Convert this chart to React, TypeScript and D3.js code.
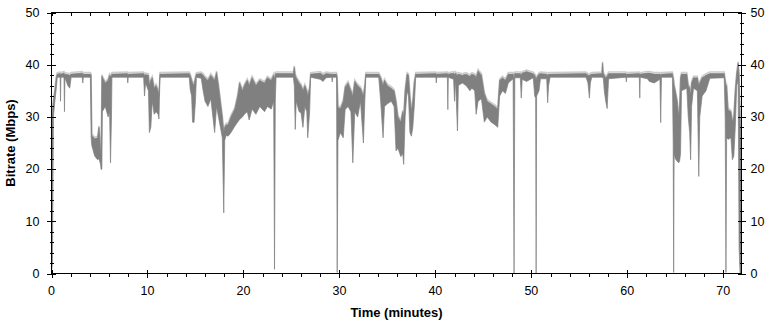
import * as d3 from 'd3';
import React, { useEffect, useRef } from 'react';

const W = 771, H = 321;
const margin = { top: 12.5, right: 29.5, bottom: 47.5, left: 51.5 };

const xTicks = [0, 10, 20, 30, 40, 50, 60, 70];
const yTicks = [0, 10, 20, 30, 40, 50];
const xTitle = 'Time (minutes)';
const yTitle = 'Bitrate (Mbps)';
const xMax = 71.9;

// [minute, low Mbps, high Mbps]
const bitrate: [number, number, number][] = [
  [0.0, 0, 30], [0.1, 2, 31], [0.2, 30, 33], [0.35, 33, 35], [0.5, 35.5, 37.5],
  [0.6, 37.6, 38.2], [0.9, 37.6, 38.3], [0.94, 33, 38.1], [0.98, 37.6, 38.2],
  [1.3, 37.6, 38.4], [1.35, 31, 38.1], [1.4, 37.5, 38.2], [1.7, 36, 38.1],
  [1.9, 35.5, 38], [2.05, 37.6, 38.2], [3.2, 37.6, 38.4], [3.26, 36.5, 38.1],
  [3.32, 37.6, 38.2], [4.05, 37.6, 38.2], [4.13, 26, 38], [4.2, 24.5, 26.5],
  [4.5, 22.5, 25.8], [4.8, 21.8, 26], [4.95, 22, 28], [5.1, 21, 24],
  [5.17, 19.9, 22.5], [5.25, 20, 37.8], [5.3, 31, 37.6], [5.6, 32, 36.5],
  [5.9, 30, 37], [6.05, 31, 38], [6.15, 21.2, 37.8], [6.25, 30, 38],
  [6.3, 37.6, 38.2], [7.9, 37.6, 38.3], [7.95, 36.5, 38.1], [8.0, 37.6, 38.2],
  [9.6, 37.6, 38.3], [9.69, 34, 38], [9.8, 36.5, 38.1], [10.1, 35, 38],
  [10.2, 27, 36], [10.35, 28, 37], [10.5, 33, 37.5], [10.7, 30.5, 35.5],
  [10.9, 31, 36], [11.1, 30.5, 35], [11.2, 29.6, 34], [11.3, 37.6, 38.2],
  [14.35, 37.6, 38.3], [14.45, 35.3, 38], [14.6, 34, 37], [14.7, 29, 36.5],
  [14.85, 28.9, 36], [15.0, 33, 37.5], [15.1, 37.6, 38.2], [15.6, 37.4, 38.3],
  [15.8, 35, 38], [16.0, 33, 37.5], [16.3, 32, 37], [16.6, 33.5, 38],
  [17.0, 27, 37], [17.2, 32, 38.5], [17.4, 30, 36], [17.6, 28, 33],
  [17.8, 26, 30], [17.95, 11.6, 27], [18.05, 25.5, 28], [18.2, 26.5, 28.5],
  [18.4, 26.3, 28.5], [18.7, 27, 30], [19.1, 28.2, 31.5], [19.4, 29, 34],
  [19.6, 29.5, 36.5], [19.9, 30, 35], [20.1, 30.5, 36], [20.4, 31, 37],
  [20.6, 29.4, 36], [20.9, 31.5, 37.5], [21.3, 30.5, 36], [21.7, 32, 37],
  [22.2, 31, 36.5], [22.5, 32, 37.5], [22.9, 31.5, 37], [23.15, 33, 38],
  [23.24, 0.8, 37], [23.32, 33, 38.2], [23.4, 37.6, 38.3], [25.2, 37.6, 38.3],
  [25.3, 36, 39.5], [25.4, 27.6, 38], [25.5, 33, 37.5], [25.8, 31, 36.5],
  [26.0, 30.8, 36], [26.2, 28, 35], [26.4, 32, 36], [26.6, 31, 35],
  [26.7, 26, 34], [26.9, 31, 35.5], [27.0, 37.6, 38.2], [28.0, 37.2, 38.4],
  [28.3, 36.8, 38], [28.6, 37.5, 38.3], [29.2, 37.6, 38.2], [29.25, 36.7, 38],
  [29.3, 37.6, 38.2], [29.7, 37.6, 38.2], [29.77, 0.2, 37.5], [29.85, 25.5, 32],
  [30.1, 27, 31.5], [30.4, 26, 33], [30.6, 31.4, 35.7], [30.9, 32, 36.5],
  [31.2, 31, 35], [31.4, 21.2, 34], [31.6, 31, 36.8], [31.9, 30, 36],
  [32.2, 33, 35.5], [32.5, 25, 34], [32.65, 33, 36], [32.75, 37.6, 38.2],
  [34.1, 37.6, 38.2], [34.3, 33, 37.5], [34.55, 26, 36], [34.7, 32, 37],
  [35.0, 32.5, 36], [35.4, 33, 35.5], [35.7, 32, 35], [35.9, 23.5, 33],
  [36.1, 24, 30], [36.4, 22.4, 29], [36.6, 23, 31], [36.7, 20.9, 30],
  [36.85, 30, 35], [37.05, 35, 38.2], [37.2, 34, 38], [37.35, 27, 34],
  [37.5, 26.3, 31], [37.65, 28, 33], [37.8, 32, 36.5], [37.95, 37.6, 38.2],
  [40.05, 37.6, 38.3], [40.1, 36.5, 38], [40.15, 37.6, 38.2], [41.25, 37.6, 38.3],
  [41.3, 31.4, 38], [41.35, 37.6, 38.2], [41.9, 37.2, 38.4], [42.0, 33, 38],
  [42.1, 37.2, 38.4], [42.3, 27.3, 38], [42.4, 36, 38.2], [42.8, 36.5, 38],
  [43.2, 36, 38.2], [43.6, 35, 37.8], [43.8, 35.5, 38.2], [44.1, 35, 38],
  [44.25, 30.5, 37.5], [44.45, 33, 38.8], [44.8, 33.5, 38], [45.1, 29, 34.5],
  [45.4, 30, 33], [45.8, 29, 32.5], [46.2, 28.5, 32], [46.5, 28, 31.5],
  [46.7, 34, 37], [47.0, 35, 37.5], [47.3, 34.5, 37], [47.6, 36.5, 38.2],
  [48.1, 37.3, 38.2], [48.2, 0.1, 37], [48.28, 37.5, 38.3], [48.85, 37.5, 38.3],
  [48.95, 33.6, 38], [49.05, 37.2, 38.4], [49.5, 36.8, 38.7], [50.2, 37.5, 38.3],
  [50.35, 34, 38], [50.45, 33.6, 37.5], [50.5, 0, 37], [50.55, 34, 37.5],
  [50.8, 35, 38.2], [50.95, 37.3, 38.3], [51.6, 37.3, 38.2], [51.7, 32.7, 38],
  [51.8, 36, 38.2], [51.95, 37.6, 38.2], [55.7, 37.6, 38.3], [55.9, 36.5, 38],
  [56.05, 33.6, 38], [56.15, 36.5, 38.1], [56.3, 37.6, 38.2], [57.35, 37.6, 38.3],
  [57.42, 37.5, 40.3], [57.5, 37.6, 38.3], [57.6, 35, 38], [57.75, 33, 37.5],
  [57.9, 31.6, 37.8], [58.05, 37.3, 38.3], [59.85, 37.6, 38.3], [59.9, 36.7, 38.1],
  [59.95, 37.6, 38.2], [61.25, 37.6, 38.3], [61.3, 33.6, 38], [61.35, 37.6, 38.2],
  [62.1, 37.3, 38.4], [62.3, 36.8, 38.4], [62.8, 36.5, 38.2], [63.4, 37.2, 38.2],
  [63.48, 28.9, 38], [63.56, 37.6, 38.2], [64.7, 37.6, 38.3], [64.78, 25, 37.5],
  [64.83, 0.2, 37], [64.88, 23, 36], [65.0, 22, 35], [65.2, 21.5, 33],
  [65.35, 21.2, 30], [65.45, 21.5, 32], [65.55, 23, 37.5], [65.65, 35, 38.2],
  [66.2, 35.5, 38.2], [66.35, 30, 36], [66.5, 27, 35.5], [66.6, 21.8, 34],
  [66.7, 32, 36.5], [66.9, 35.5, 37.5], [67.3, 35, 37.5], [67.45, 18.6, 36],
  [67.55, 30, 36.5], [67.8, 34, 37.5], [68.2, 35, 38], [68.6, 37.4, 38.3],
  [70.1, 37.5, 38.3], [70.2, 30, 37], [70.28, 0.2, 36], [70.35, 26, 36],
  [70.5, 25.7, 31.4], [70.8, 26, 31], [70.95, 21.8, 29], [71.1, 22.5, 30],
  [71.25, 28, 35], [71.4, 36, 38.3], [71.55, 37, 40.3], [71.65, 5, 38],
  [71.75, 0, 30], [71.85, 0, 25],
];

const App = () => {
  const ref = useRef<SVGSVGElement>(null);

  useEffect(() => {
    const svg = d3.select(ref.current);
    svg.selectAll('*').remove();

    const x0 = margin.left, x1 = W - margin.right;
    const yTop = margin.top, yBot = H - margin.bottom;

    const x = d3.scaleLinear().domain([0, xMax]).range([x0, x1]);
    const y = d3.scaleLinear().domain([0, 50]).range([yBot, yTop]);

    svg.append('clipPath').attr('id', 'plot')
      .append('rect').attr('x', x0).attr('y', yTop).attr('width', x1 - x0).attr('height', yBot - yTop);

    const g = svg.append('g').attr('clip-path', 'url(#plot)');

    // light fuzz riding on top of the trace
    const top = d3.line<[number, number, number]>()
      .x(d => x(d[0]))
      .y(d => y(d[2]) - 1.5);
    g.append('path').attr('d', top(bitrate))
      .attr('fill', 'none').attr('stroke', '#cccccc').attr('stroke-width', 1.5);

    const area = d3.area<[number, number, number]>()
      .x(d => x(d[0]))
      .y0(d => y(d[1]))
      .y1(d => y(d[2]));
    g.append('path').attr('d', area(bitrate))
      .attr('fill', '#808080').attr('stroke', '#808080').attr('stroke-width', 0.7);

    // frame
    const axis = svg.append('g').attr('stroke', '#000').attr('stroke-width', 1).attr('shape-rendering', 'crispEdges');
    axis.append('rect').attr('x', x0).attr('y', yTop).attr('width', x1 - x0).attr('height', yBot - yTop)
      .attr('fill', 'none');

    // x ticks
    const xMinor = d3.range(0, xMax, 2);
    xMinor.forEach(t => {
      axis.append('line').attr('x1', Math.round(x(t)) + 0.5).attr('x2', Math.round(x(t)) + 0.5)
        .attr('y1', yBot).attr('y2', yBot + 3);
      axis.append('line').attr('x1', Math.round(x(t)) + 0.5).attr('x2', Math.round(x(t)) + 0.5)
        .attr('y1', yTop).attr('y2', yTop + 3);
    });
    xTicks.forEach(t => {
      axis.append('line').attr('x1', Math.round(x(t)) + 0.5).attr('x2', Math.round(x(t)) + 0.5)
        .attr('y1', yBot - 4).attr('y2', yBot + 4);
    });

    // y ticks on both sides
    const yMinor = d3.range(0, 51, 2);
    yMinor.forEach(v => {
      const yy = Math.round(y(v)) + 0.5;
      axis.append('line').attr('x1', x0 - 2).attr('x2', x0 + 2).attr('y1', yy).attr('y2', yy);
      axis.append('line').attr('x1', x1 - 2).attr('x2', x1 + 2).attr('y1', yy).attr('y2', yy);
    });
    yTicks.forEach(v => {
      const yy = Math.round(y(v)) + 0.5;
      axis.append('line').attr('x1', x0 - 5).attr('x2', x0 + 4).attr('y1', yy).attr('y2', yy);
      axis.append('line').attr('x1', x1 - 4).attr('x2', x1 + 4).attr('y1', yy).attr('y2', yy);
    });

    const font = 'Liberation Sans, Arial, sans-serif';
    const labels = svg.append('g').attr('font-family', font).attr('font-size', 12.5).attr('fill', '#000');

    yTicks.forEach(v => {
      labels.append('text').attr('x', x0 - 12).attr('y', y(v)).attr('dy', '0.35em')
        .attr('text-anchor', 'end').text(v);
      labels.append('text').attr('x', x1 + 9).attr('y', y(v)).attr('dy', '0.35em')
        .attr('text-anchor', 'start').text(v);
    });
    xTicks.forEach(t => {
      labels.append('text').attr('x', x(t)).attr('y', yBot + 21)
        .attr('text-anchor', 'middle').text(t);
    });

    svg.append('text').attr('x', (x0 + x1) / 2).attr('y', 317)
      .attr('text-anchor', 'middle').attr('font-family', font).attr('font-weight', 'bold')
      .attr('font-size', 13).text(xTitle);
    svg.append('text').attr('transform', `translate(15, ${(yTop + yBot) / 2}) rotate(-90)`)
      .attr('text-anchor', 'middle').attr('font-family', font).attr('font-weight', 'bold')
      .attr('font-size', 13).text(yTitle);
  }, []);

  return (
    <svg ref={ref} width={W} height={H}
      style={{ position: 'absolute', left: 0, top: 0, background: '#fff', display: 'block' }} />
  );
};

export default App;
